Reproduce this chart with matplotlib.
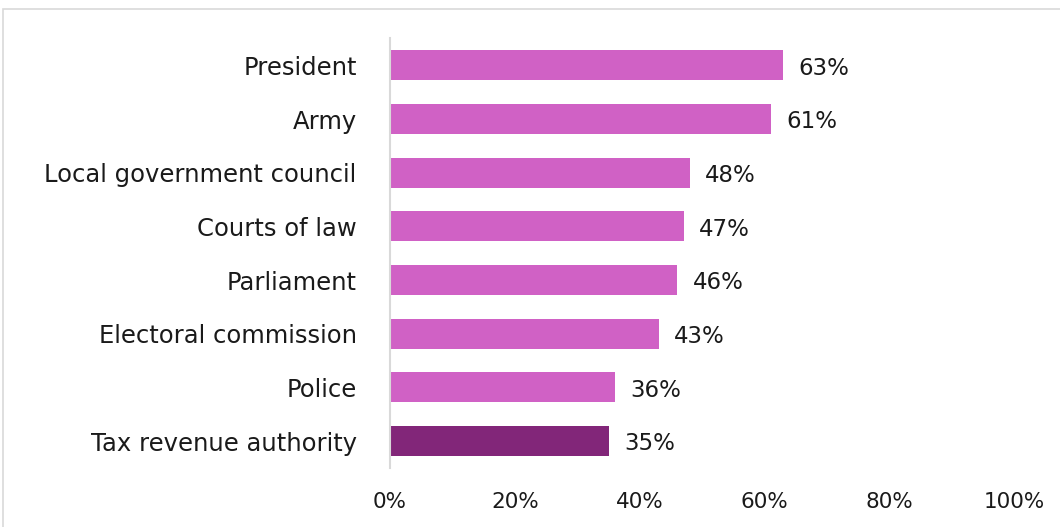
import matplotlib
matplotlib.use('Agg')
import matplotlib.pyplot as plt
from matplotlib.patches import Rectangle
from matplotlib.ticker import PercentFormatter

institutions = ['President', 'Army', 'Local government council', 'Courts of law',
                'Parliament', 'Electoral commission', 'Police', 'Tax revenue authority']
trust = [63, 61, 48, 47, 46, 43, 36, 35]
highlight = 'Tax revenue authority'

pink = '#D061C5'
plum = '#822679'
colors = [plum if name == highlight else pink for name in institutions]

plt.rcParams['font.family'] = ['DejaVu Sans']

fig = plt.figure(figsize=(10.6, 5.27), dpi=100)
ax = fig.add_axes([0.368, 0.112, 0.589, 0.815])

ypos = list(range(len(institutions)))
ax.barh(ypos, [v / 100 for v in trust], height=0.56, color=colors)
ax.set_ylim(len(institutions) - 0.5, -0.5)
ax.set_xlim(0, 1)

for y, v in zip(ypos, trust):
    ax.annotate(f'{v}%', (v / 100, y), xytext=(11, -2), textcoords='offset points',
                ha='left', va='center', fontsize=16.5, color='#1a1a1a')

ax.set_yticks(ypos)
ax.set_yticklabels(institutions, fontsize=17.5, color='#1a1a1a')
ax.set_xticks([0, 0.2, 0.4, 0.6, 0.8, 1.0])
ax.xaxis.set_major_formatter(PercentFormatter(1.0, decimals=0))
ax.tick_params(axis='x', labelsize=15.5, colors='#1a1a1a', length=0, pad=17)
ax.tick_params(axis='y', length=0, pad=24)

for side in ['top', 'right', 'bottom']:
    ax.spines[side].set_visible(False)
ax.spines['left'].set_color('#D9D9D9')
ax.spines['left'].set_linewidth(1.5)

# outer chart frame, partly cut off on the right and bottom
fig.patches.append(Rectangle((3, -100), 1200, 618, transform=None, fill=False,
                             edgecolor='#D9D9D9', linewidth=1.2))

fig.savefig('out.png', dpi=100)
